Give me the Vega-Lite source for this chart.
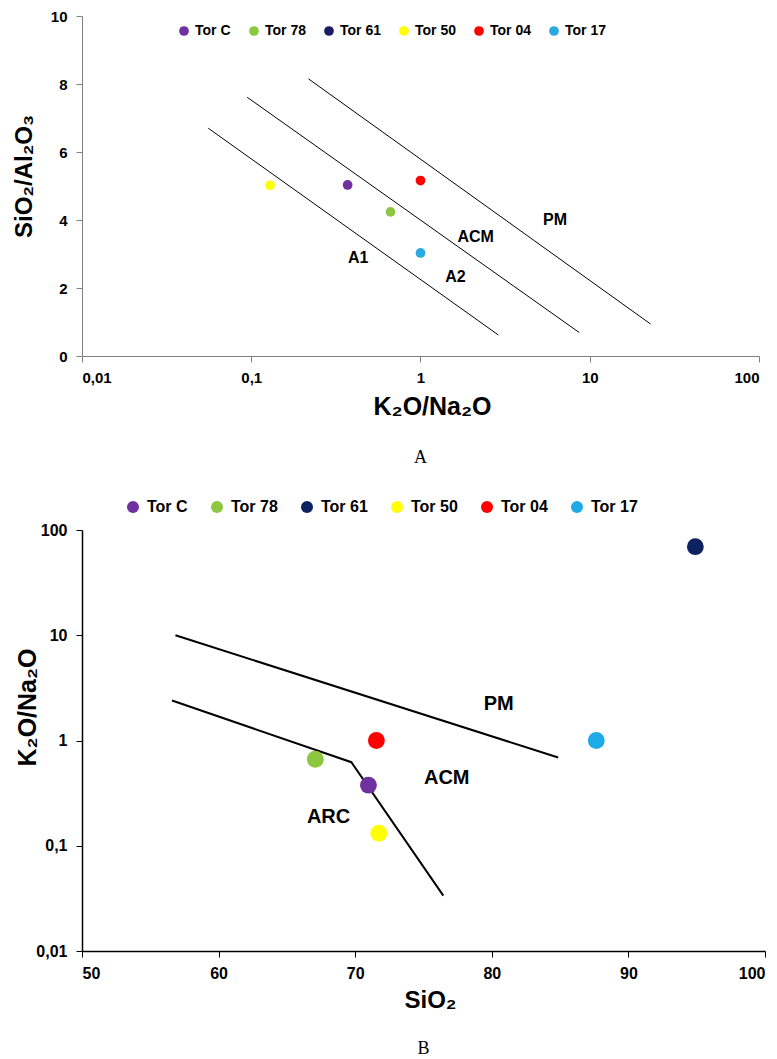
{
  "$schema": "https://vega.github.io/schema/vega-lite/v6.json",
  "background": "white",
  "padding": {"left": 12, "top": 9, "right": 8, "bottom": 0},
  "spacing": 32,
  "config": {
    "font": "Liberation Sans",
    "view": {"stroke": null},
    "axis": {"grid": false, "labelFontWeight": "bold", "titleFontWeight": "bold", "labelColor": "black", "titleColor": "black", "tickSize": 6}
  },
  "resolve": {"scale": {"color": "independent"}, "legend": {"color": "independent"}},
  "datasets": {
    "pointsA": [
      {"sample": "Tor C", "x": 0.371, "y": 5.03},
      {"sample": "Tor 78", "x": 0.665, "y": 4.24},
      {"sample": "Tor 50", "x": 0.129, "y": 5.02},
      {"sample": "Tor 04", "x": 1.0, "y": 5.16},
      {"sample": "Tor 17", "x": 1.0, "y": 3.03}
    ],
    "linesA": [
      {"line": "A1", "ord": 1, "x": 0.0557, "y": 6.70},
      {"line": "A1", "ord": 2, "x": 2.88, "y": 0.62},
      {"line": "A2", "ord": 1, "x": 0.0946, "y": 7.61},
      {"line": "A2", "ord": 2, "x": 8.67, "y": 0.69},
      {"line": "PM", "ord": 1, "x": 0.218, "y": 8.15},
      {"line": "PM", "ord": 2, "x": 22.9, "y": 0.94}
    ],
    "labelsA": [
      {"label": "PM", "x": 6.24, "y": 4.0},
      {"label": "ACM", "x": 2.12, "y": 3.49},
      {"label": "A1", "x": 0.428, "y": 2.89},
      {"label": "A2", "x": 1.61, "y": 2.32}
    ],
    "pointsB": [
      {"sample": "Tor C", "x": 70.97, "y": 0.376},
      {"sample": "Tor 78", "x": 67.08, "y": 0.664},
      {"sample": "Tor 61", "x": 94.9, "y": 69.4},
      {"sample": "Tor 50", "x": 71.73, "y": 0.1315},
      {"sample": "Tor 04", "x": 71.55, "y": 1.0},
      {"sample": "Tor 17", "x": 87.65, "y": 1.0}
    ],
    "linesB": [
      {"line": "upper", "ord": 1, "x": 56.84, "y": 10},
      {"line": "upper", "ord": 2, "x": 84.86, "y": 0.689},
      {"line": "lower", "ord": 1, "x": 56.59, "y": 2.40},
      {"line": "lower", "ord": 2, "x": 69.72, "y": 0.622},
      {"line": "lower", "ord": 3, "x": 76.45, "y": 0.0336}
    ],
    "labelsB": [
      {"label": "PM", "x": 80.5, "y": 2.2},
      {"label": "ACM", "x": 76.7, "y": 0.441},
      {"label": "ARC", "x": 68.05, "y": 0.187}
    ]
  },
  "vconcat": [
    {
      "width": 677,
      "height": 340,
      "title": {"text": "A", "orient": "bottom", "font": "Liberation Serif", "fontSize": 18, "fontWeight": "normal", "color": "black", "offset": 30},
      "encoding": {
        "x": {
          "field": "x", "type": "quantitative",
          "scale": {"type": "log", "domain": [0.01, 100], "nice": false},
          "axis": {
            "title": "K₂O/Na₂O", "values": [0.01, 0.1, 1, 10, 100],
            "labelExpr": "replace(format(datum.value, '~g'), '.', ',')",
            "domainColor": "#808080", "tickColor": "#808080",
            "labelFontSize": 15, "labelPadding": 8,
            "titleFontSize": 25, "titleX": 350, "titleY": 58, "titleBaseline": "alphabetic"
          }
        },
        "y": {
          "field": "y", "type": "quantitative",
          "scale": {"domain": [0, 10], "nice": false, "zero": true},
          "axis": {
            "title": "SiO₂/Al₂O₃", "values": [0, 2, 4, 6, 8, 10],
            "domainColor": "#808080", "tickColor": "#808080",
            "labelFontSize": 15, "labelPadding": 9,
            "titleFontSize": 24, "titleX": -58, "titleY": 160, "titleBaseline": "middle"
          }
        }
      },
      "layer": [
        {
          "data": {"name": "linesA"},
          "mark": {"type": "line", "color": "black", "strokeWidth": 1},
          "encoding": {"detail": {"field": "line", "type": "nominal"}, "order": {"field": "ord", "type": "quantitative"}}
        },
        {
          "data": {"name": "labelsA"},
          "mark": {"type": "text", "fontSize": 16, "fontWeight": "bold", "color": "black", "align": "center", "baseline": "middle"},
          "encoding": {"text": {"field": "label", "type": "nominal"}}
        },
        {
          "data": {"name": "pointsA"},
          "mark": {"type": "circle", "size": 95, "opacity": 1},
          "encoding": {
            "color": {
              "field": "sample", "type": "nominal",
              "scale": {"domain": ["Tor C", "Tor 78", "Tor 61", "Tor 50", "Tor 04", "Tor 17"], "range": ["#7030A0", "#8DC63F", "#1B1A63", "#FFFF00", "#FF0000", "#29ABE2"]},
              "legend": {"title": null, "orient": "none", "legendX": 95, "legendY": 8, "direction": "horizontal", "symbolType": "circle", "symbolSize": 95, "symbolOpacity": 1, "labelFontSize": 14, "labelFontWeight": "bold", "labelColor": "black", "labelOffset": 4, "columnPadding": 16, "padding": 0}
            }
          }
        }
      ]
    },
    {
      "width": 683,
      "height": 421,
      "title": {"text": "B", "orient": "bottom", "font": "Liberation Serif", "fontSize": 18, "fontWeight": "normal", "color": "black", "offset": 28},
      "encoding": {
        "x": {
          "field": "x", "type": "quantitative",
          "scale": {"domain": [50, 100], "nice": false, "zero": false},
          "axis": {
            "title": "SiO₂", "values": [50, 60, 70, 80, 90, 100],
            "domainColor": "black", "tickColor": "black", "domainWidth": 1.5,
            "labelFontSize": 16, "labelPadding": 8,
            "titleFontSize": 24, "titleX": 348, "titleY": 56, "titleBaseline": "alphabetic"
          }
        },
        "y": {
          "field": "y", "type": "quantitative",
          "scale": {"type": "log", "domain": [0.01, 100], "nice": false},
          "axis": {
            "title": "K₂O/Na₂O", "values": [0.01, 0.1, 1, 10, 100],
            "labelExpr": "replace(format(datum.value, '~g'), '.', ',')",
            "domainColor": "black", "tickColor": "black", "domainWidth": 1.5,
            "labelFontSize": 16, "labelPadding": 9,
            "titleFontSize": 25, "titleX": -55, "titleY": 177, "titleBaseline": "middle"
          }
        }
      },
      "layer": [
        {
          "data": {"name": "linesB"},
          "mark": {"type": "line", "color": "black", "strokeWidth": 2},
          "encoding": {"detail": {"field": "line", "type": "nominal"}, "order": {"field": "ord", "type": "quantitative"}}
        },
        {
          "data": {"name": "labelsB"},
          "mark": {"type": "text", "fontSize": 20, "fontWeight": "bold", "color": "black", "align": "center", "baseline": "middle"},
          "encoding": {"text": {"field": "label", "type": "nominal"}}
        },
        {
          "data": {"name": "pointsB"},
          "mark": {"type": "circle", "size": 283, "opacity": 1},
          "encoding": {
            "color": {
              "field": "sample", "type": "nominal",
              "scale": {"domain": ["Tor C", "Tor 78", "Tor 61", "Tor 50", "Tor 04", "Tor 17"], "range": ["#7030A0", "#8DC63F", "#0D2260", "#FFFF00", "#FF0000", "#1EAAE6"]},
              "legend": {"title": null, "orient": "none", "legendX": 43, "legendY": -31, "direction": "horizontal", "symbolType": "circle", "symbolSize": 143, "symbolOpacity": 1, "labelFontSize": 16, "labelFontWeight": "bold", "labelColor": "black", "labelOffset": 6, "columnPadding": 21, "padding": 0}
            }
          }
        }
      ]
    }
  ]
}
